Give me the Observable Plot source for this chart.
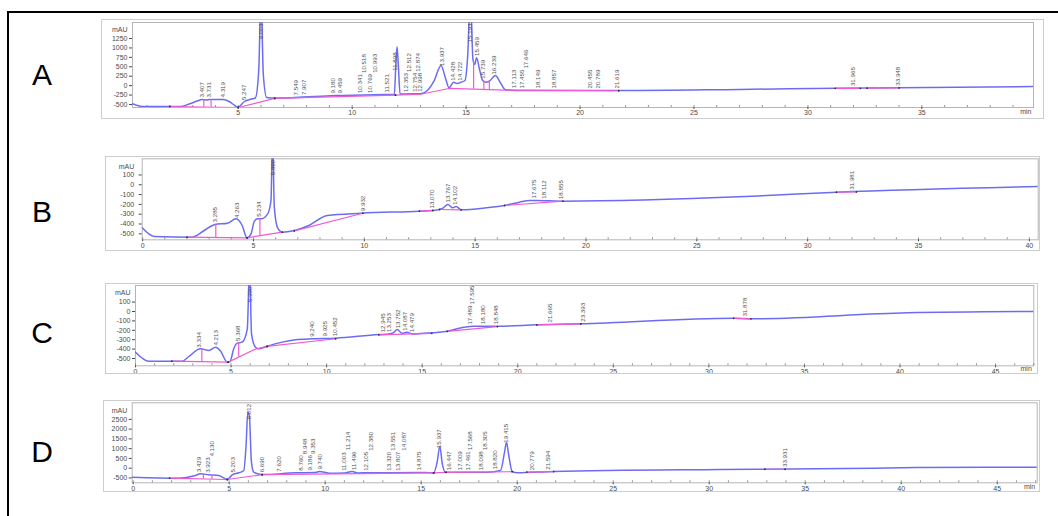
<!DOCTYPE html>
<html>
<head>
<meta charset="utf-8">
<script src="https://cdn.jsdelivr.net/npm/d3@7"></script>
<script src="https://cdn.jsdelivr.net/npm/@observablehq/plot@0.6"></script>
<style>
  html, body { margin: 0; padding: 0; background: #fff; }
  #fig { position: relative; width: 1058px; height: 516px; overflow: hidden;
         font-family: "Liberation Sans", Arial, sans-serif; }
  .rule-top { position: absolute; left: 7px; top: 11px; width: 1051px; height: 2px; background: #000; }
  .rule-left { position: absolute; left: 7px; top: 11px; width: 1.5px; height: 505px; background: #000; }
  .tag { position: absolute; width: 30px; text-align: center; font-size: 30px; line-height: 30px; color: #000; }
  .panel { position: absolute; outline: 1px solid #cdcdcd; outline-offset: -1px; }
  .panel svg { display: block; }
</style>
</head>
<body>
<div id="fig">
  <div class="rule-top"></div>
  <div class="rule-left"></div>
  <div class="tag" style="left:27px;top:60px">A</div>
  <div class="tag" style="left:27px;top:197px">B</div>
  <div class="tag" style="left:27px;top:318px">C</div>
  <div class="tag" style="left:27px;top:437px">D</div>
  <div class="panel" id="pA"></div>
  <div class="panel" id="pB"></div>
  <div class="panel" id="pC"></div>
  <div class="panel" id="pD"></div>
</div>
<script>
// ---------- Chromatogram A ----------
const aTime   = [0.36, 0.8, 2.5, 2.9, 3.2, 3.42, 3.6, 3.75, 4.0, 4.35, 4.6, 4.85, 5.0, 5.1, 5.27, 5.5, 5.75, 5.9, 6.0, 6.1, 6.25, 6.6, 7.5, 9.27, 10.5, 11.5, 11.85, 11.92, 11.97, 12.03, 12.1, 13.0, 13.3, 13.6, 13.9, 14.1, 14.25, 14.45, 14.6, 14.78, 14.95, 15.07, 15.19, 15.3, 15.38, 15.46, 15.6, 15.73, 15.85, 16.0, 16.29, 16.5, 16.73, 17.5, 21.8, 27.0, 31.3, 39.9];
const aSignal = [-482, -554, -554, -474, -408, -368, -382, -368, -368, -368, -421, -527, -580, -527, -421, -368, -329, 400, 2400, 300, -315, -329, -315, -262, -249, -236, -230, 600, 1030, 500, -220, -217, -130, 135, 533, 188, -58, 90, 56, 90, 135, 800, 2400, 700, 560, 737, 400, 135, 90, 109, 268, 82, -111, -130, -130, -100, -69, -24];
const aBaseline = [
  [[2.0, -554], [5.0, -580]],
  [[5.0, -580], [6.6, -340]],
  [[6.6, -340], [11.9, -250]],
  [[11.9, -250], [13.0, -228], [14.25, -75], [16.73, -118], [21.7, -135]],
  [[31.2, -72], [32.3, -70]],
  [[32.6, -66], [34.0, -60]]
];
const aDrops = [3.49, 3.81, 15.33, 15.78, 16.02];
const aPeaks = [3.407, 3.731, 4.319, 5.247, 6.003, 7.549, 7.907, 9.180, 9.459, 10.341, 10.518, 10.769, 10.993, 11.521, 11.898, 12.353, 12.512, 12.754, 12.874, 12.998, 13.937, 14.428, 14.722, 15.193, 15.459, 15.739, 16.239, 17.113, 17.455, 17.646, 18.149, 18.857, 20.455, 20.789, 21.619, 31.965, 33.948];
const aTicksY = [1250, 1000, 750, 500, 250, 0, -250, -500];

// ---------- Chromatogram B ----------
const bTime   = [-0.02, 0.52, 2.25, 2.78, 3.26, 3.83, 4.21, 4.49, 4.71, 4.89, 5.04, 5.19, 5.34, 5.64, 5.79, 5.86, 5.94, 6.09, 6.3, 6.84, 7.5, 8.33, 9.86, 12.49, 13.09, 13.5, 13.77, 13.99, 14.14, 14.37, 15.5, 16.33, 17.0, 17.46, 17.76, 18.96, 27.2, 31.3, 40.4];
const bSignal = [-439, -527, -534, -466, -405, -392, -347, -415, -541, -500, -371, -347, -347, -296, -160, 500, -228, -440, -483, -466, -415, -313, -290, -269, -262, -245, -201, -235, -221, -255, -235, -211, -177, -160, -160, -167, -120, -75, -17];
const bBaseline = [
  [[2.0, -534], [4.71, -541]],
  [[4.71, -541], [6.3, -483]],
  [[6.84, -470], [9.93, -290]],
  [[12.49, -269], [13.09, -262]],
  [[13.4, -252], [14.37, -255]],
  [[16.33, -211], [18.96, -167]],
  [[31.3, -76], [32.2, -73]]
];
const bDrops = [3.30, 5.29];
const bPeaks = [3.285, 4.263, 5.234, 5.860, 9.932, 13.070, 13.767, 14.102, 17.675, 18.112, 18.855, 31.981];
const bTicksY = [100, 0, -100, -200, -300, -400, -500];

// ---------- Chromatogram C ----------
const cTime   = [0, 0.7, 2.44, 2.79, 3.40, 3.84, 4.19, 4.45, 4.80, 4.94, 5.14, 5.32, 5.58, 5.85, 5.97, 6.07, 6.28, 6.45, 6.89, 7.67, 8.37, 9.24, 10.47, 12.73, 13.26, 13.5, 13.69, 13.95, 14.21, 14.5, 14.91, 16.31, 17.18, 17.7, 18.93, 21.02, 23.29, 31.3, 32.2, 40.4, 47.0];
const cSignal = [-433, -529, -529, -479, -397, -415, -380, -420, -539, -535, -397, -337, -326, -184, 500, -237, -380, -397, -369, -326, -301, -291, -284, -245, -240, -225, -191, -232, -220, -240, -234, -209, -167, -156, -156, -142, -131, -71, -78, -14, 0];
const cBaseline = [
  [[1.9, -529], [4.85, -539]],
  [[4.85, -539], [6.28, -400], [6.89, -372]],
  [[6.89, -372], [10.47, -290]],
  [[12.73, -248], [15.5, -232]],
  [[16.31, -212], [18.93, -160]],
  [[21.0, -143], [23.3, -132]],
  [[31.3, -72], [32.2, -78]]
];
const cDrops = [3.47, 5.40];
const cPeaks = [3.334, 4.213, 5.368, 5.990, 9.240, 9.925, 10.452, 12.945, 13.253, 13.752, 14.087, 14.479, 17.489, 17.595, 18.180, 18.848, 21.665, 23.393, 31.878];
const cTicksY = [100, 0, -100, -200, -300, -400, -500];

// ---------- Chromatogram D ----------
const dTime   = [-0.05, 2.38, 3.24, 3.5, 3.94, 4.46, 4.9, 5.16, 5.5, 5.76, 5.88, 5.97, 6.05, 6.16, 6.28, 6.72, 8.45, 9.49, 9.7, 10.2, 11.0, 11.4, 11.7, 15.2, 15.65, 15.83, 15.97, 16.1, 16.27, 18.44, 19.13, 19.34, 19.44, 19.56, 19.74, 20.0, 21.9, 30.6, 37.1, 40.8, 47.08];
const dSignal = [-460, -512, -374, -288, -340, -374, -580, -340, -237, -118, 1162, 2880, 2700, 307, -203, -323, -237, -220, -169, -254, -240, -169, -240, -220, -237, 307, 1111, 222, -203, -203, -118, 819, 1331, 650, -169, -237, -169, -67, -20, 30, 51];
const dBaseline = [
  [[1.9, -512], [4.9, -580]],
  [[4.9, -580], [6.72, -330]],
  [[6.72, -330], [15.65, -240]],
  [[15.65, -240], [16.27, -210]],
  [[16.3, -210], [19.74, -180]],
  [[20.5, -200], [21.9, -175]],
  [[32.9, -55], [33.95, -55]]
];
const dDrops = [3.66, 4.10];
const dPeaks = [3.429, 3.923, 4.130, 5.203, 6.012, 6.690, 7.620, 8.760, 8.948, 9.186, 9.353, 9.740, 11.003, 11.214, 11.496, 12.105, 12.380, 13.320, 13.551, 13.807, 14.087, 14.875, 15.937, 16.447, 17.009, 17.461, 17.568, 18.098, 18.305, 18.820, 19.415, 20.779, 21.594, 33.931];
const dTicksY = [2500, 2000, 1500, 1000, 500, 0, -500];

// ---------- drawing ----------
const BLUE = "#6c6cf2";
const PINK = "#f05ad6";
const INK = "#4a4a4a";

// Linear interpolation along a polyline
function interp(xs, ys, t) {
  if (t <= xs[0]) return ys[0];
  for (let i = 1; i < xs.length; i++) {
    if (t <= xs[i]) {
      const f = (t - xs[i - 1]) / (xs[i] - xs[i - 1]);
      return ys[i - 1] + f * (ys[i] - ys[i - 1]);
    }
  }
  return ys[ys.length - 1];
}

// Approximate rendered width of a retention-time label
function textLen(s, fs) {
  let w = 0;
  for (const ch of s) w += ch === "." ? 0.278 : 0.556;
  return w * fs;
}

function chromatogram(d, L) {
  const plotH = L.height - L.mt - L.mb;
  const plotW = L.width - L.ml - L.mr;
  const upp = (L.y[1] - L.y[0]) / plotH;      // mAU per pixel
  const xpp = plotW / (L.x[1] - L.x[0]);      // pixels per minute

  const trace = d.time.map((t, i) => ({t, v: d.signal[i]}));
  const base = d.baseline.flatMap((seg, k) => seg.map(([t, v]) => ({t, v, k})));
  const ends = d.baseline.flatMap(seg => [seg[0], seg[seg.length - 1]]).map(([t, v]) => ({t, v}));
  const drops = d.drops.map(t => {
    const seg = d.baseline.find(s => t >= s[0][0] && t <= s[s.length - 1][0]);
    const b = interp(seg.map(p => p[0]), seg.map(p => p[1]), t);
    return {t, y1: b, y2: interp(d.time, d.signal, t)};
  });

  // Peak labels: rotated retention times above each peak, stacked when crowded
  const fs = 6.2, gap = 2;
  const rowLast = [];
  const normal = [], atTop = [];
  for (const p of [...d.peaks].sort((a, b) => a - b)) {
    const text = p.toFixed(3);
    const len = textLen(text, fs);
    const v = interp(d.time, d.signal, p);
    if (v + (gap + len) * upp > L.y[1]) {
      atTop.push({t: p, text, y: L.y[1] - upp});
      continue;
    }
    const px = (p - L.x[0]) * xpp;
    let r = 0;
    while (r < 2 && rowLast[r] !== undefined && px - rowLast[r] < 5.5) r++;
    rowLast[r] = px;
    normal.push({t: p, text, y: v + (gap + r * (len + 1)) * upp});
  }

  const minutes = d3.range(Math.ceil(L.x[0]), Math.floor(L.x[1]) + 1);
  const fives = minutes.filter(t => t % 5 === 0);

  return Plot.plot({
    width: L.width,
    height: L.height,
    marginTop: L.mt, marginRight: L.mr, marginBottom: L.mb, marginLeft: L.ml,
    x: {domain: L.x, label: null},
    y: {domain: L.y, label: null},
    style: {fontFamily: "'Liberation Sans', Arial, sans-serif", background: "transparent", overflow: "visible"},
    marks: [
      Plot.frame({stroke: "#b5b5b5"}),
      // one-minute ticks resting on the time axis
      Plot.tickX(minutes, {x: t => t, stroke: "#777", strokeWidth: 0.8, insetTop: plotH - 2}),
      Plot.line(trace, {x: "t", y: "v", stroke: BLUE, strokeWidth: 1.5, curve: "monotone-x", clip: true}),
      Plot.line(base, {x: "t", y: "v", z: "k", stroke: PINK, strokeWidth: 1.2, clip: true}),
      Plot.ruleX(drops, {x: "t", y1: "y1", y2: "y2", stroke: PINK, strokeWidth: 1.2, clip: true}),
      Plot.dot(ends, {x: "t", y: "v", r: 0.9, fill: "#333", stroke: null}),
      Plot.text(normal, {x: "t", y: "y", text: "text", rotate: -90, textAnchor: "start", fontSize: fs, fill: "#555"}),
      Plot.text(atTop, {x: "t", y: "y", text: "text", rotate: -90, textAnchor: "end", fontSize: fs, fill: "#555"}),
      Plot.axisX({ticks: fives, tickFormat: t => String(t), tickSize: 2, tickPadding: 1, fontSize: 7, color: INK, label: null}),
      Plot.axisY({ticks: d.yTicks, tickFormat: v => String(v), tickSize: 3, tickPadding: L.yPad, fontSize: 7, color: INK, label: null}),
      Plot.text(["mAU"], {frameAnchor: "top-left", dx: -(3 + L.yPad), dy: 5, textAnchor: "end", fontSize: 7, fill: INK}),
      L.min ? Plot.text(["min"], {frameAnchor: "bottom-right", dx: -2, dy: L.minDy, textAnchor: "end", fontSize: 7, fill: INK}) : null
    ].filter(Boolean)
  });
}

const panels = [
  {id: "pA", data: {time: aTime, signal: aSignal, baseline: aBaseline, drops: aDrops, peaks: aPeaks, yTicks: aTicksY},
   L: {left: 101, top: 19, width: 943, height: 100, mt: 3, mr: 11, mb: 12, ml: 31, x: [0.36, 39.9], y: [-580, 1675], yPad: 2, min: true, minDy: 6.5}},
  {id: "pB", data: {time: bTime, signal: bSignal, baseline: bBaseline, drops: bDrops, peaks: bPeaks, yTicks: bTicksY},
   L: {left: 105, top: 156, width: 935, height: 95, mt: 2.3, mr: 2.3, mb: 11.7, ml: 36.7, x: [-0.02, 40.4], y: [-561, 265], yPad: 5, min: false}},
  {id: "pC", data: {time: cTime, signal: cSignal, baseline: cBaseline, drops: cDrops, peaks: cPeaks, yTicks: cTicksY},
   L: {left: 105, top: 283, width: 933, height: 91, mt: 2, mr: 4.7, mb: 8.7, ml: 30, x: [0, 47.0], y: [-578, 277], yPad: 2, min: true, minDy: 5.5}},
  {id: "pD", data: {time: dTime, signal: dSignal, baseline: dBaseline, drops: dDrops, peaks: dPeaks, yTicks: dTicksY},
   L: {left: 103, top: 400, width: 937, height: 92, mt: 2.3, mr: 3.3, mb: 9.7, ml: 28.7, x: [-0.05, 47.08], y: [-748, 3348], yPad: 2, min: true, minDy: 6.5}}
];

for (const p of panels) {
  const el = document.getElementById(p.id);
  el.style.left = p.L.left + "px";
  el.style.top = p.L.top + "px";
  el.style.width = p.L.width + "px";
  el.style.height = p.L.height + "px";
  el.appendChild(chromatogram(p.data, p.L));
}
</script>
</body>
</html>
